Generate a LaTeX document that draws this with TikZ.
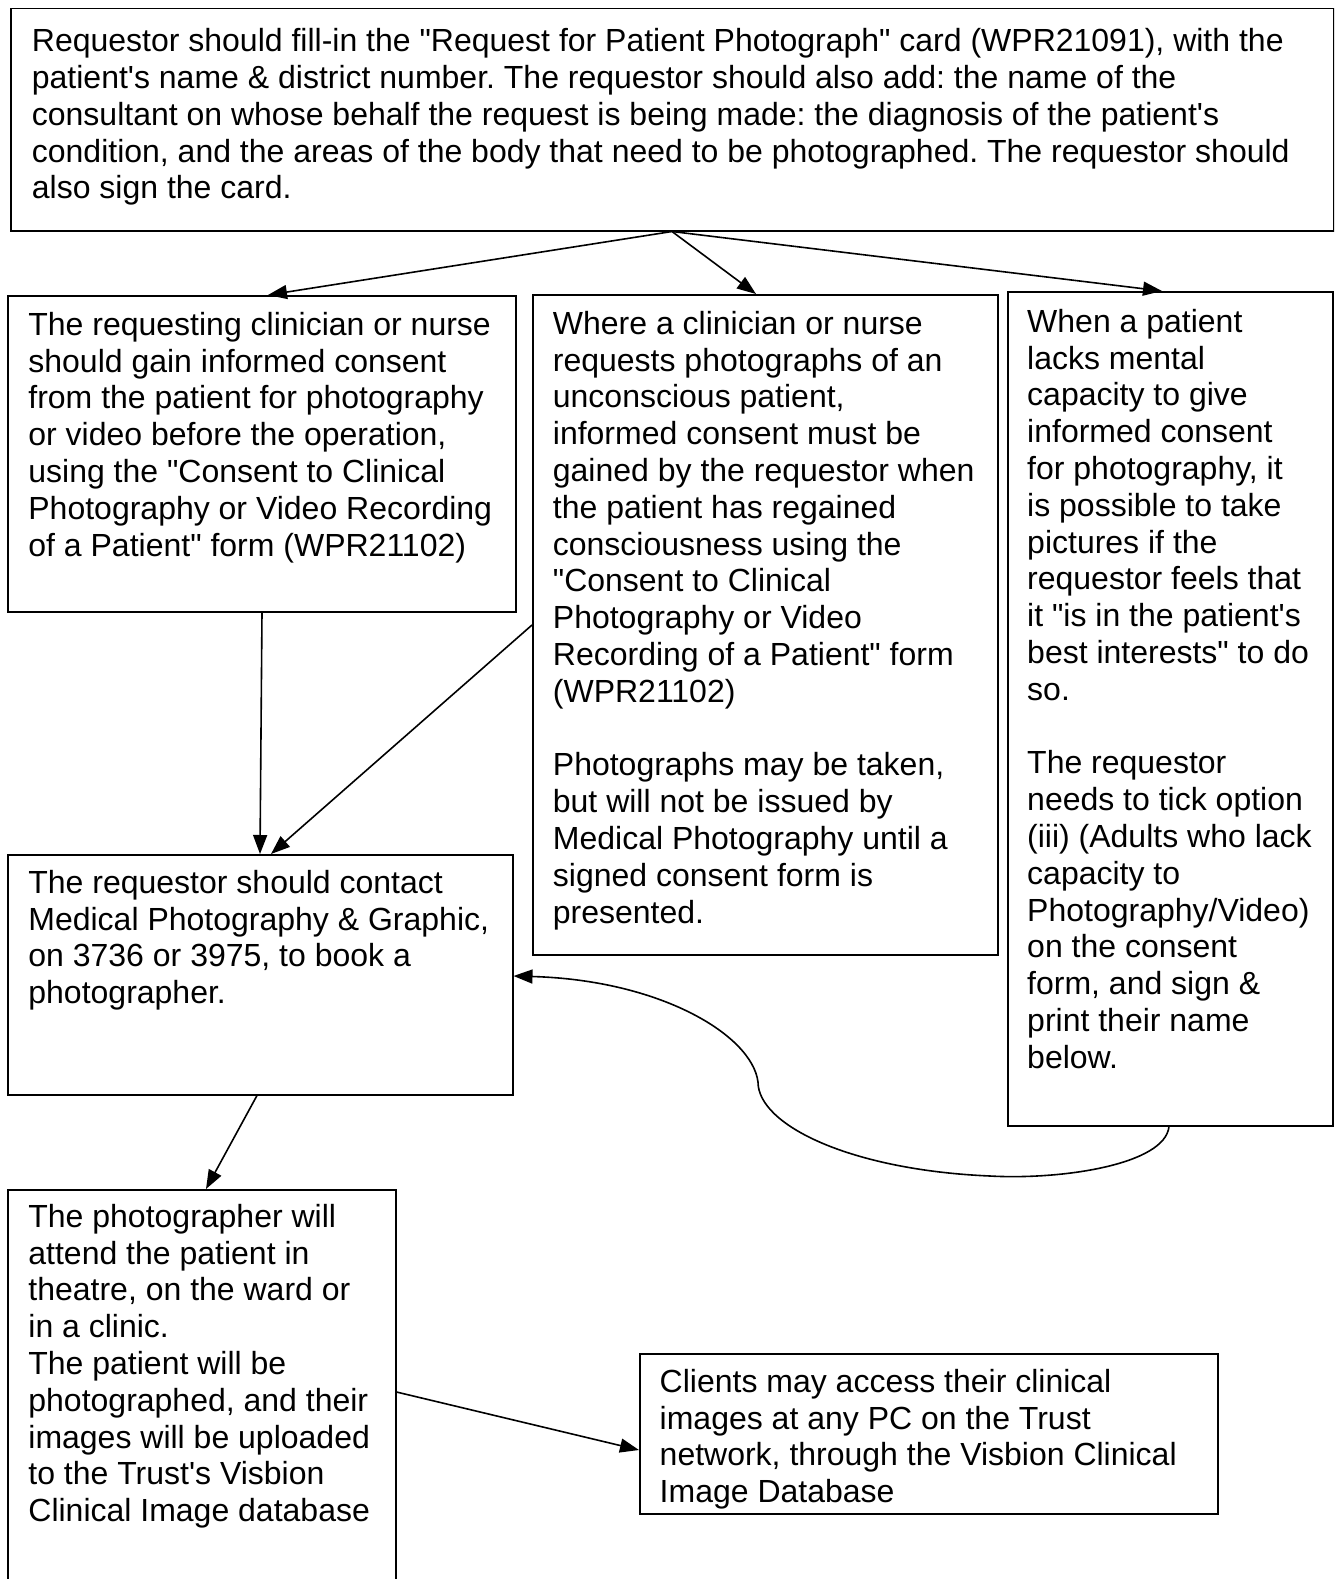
\documentclass[tikz,border=0pt]{standalone}
\usepackage{fontspec}
\newfontfamily\arialf{Liberation Sans}
\usetikzlibrary{arrows.meta}
\tikzset{
  boxn/.style={draw, line width=1.5pt, rectangle, inner sep=0pt, anchor=north west},
  txt/.style={anchor=north west, inner sep=0pt, align=left, font=\arialf\fontsize{32}{36.8}\selectfont\frenchspacing},
  conn/.style={line width=1.6pt, -{Triangle[length=19pt,width=14pt]}},
}
\newcommand{\fl}{\rule{0pt}{26pt}}
\begin{document}
\begin{tikzpicture}[x=1pt,y=-1pt]
\useasboundingbox (0,0) rectangle (1334,1579);
\clip (0,0) rectangle (1334,1579);
% boxes
\node[boxn, minimum width=1323pt, minimum height=222pt] (top) at (10,8) {};
\node[boxn, minimum width=508pt, minimum height=316pt] (b1) at (7,295) {};
\node[boxn, minimum width=465pt, minimum height=660pt] (b2) at (532,294) {};
\node[boxn, minimum width=325pt, minimum height=834pt] (b3) at (1007,291) {};
\node[boxn, minimum width=505pt, minimum height=240pt] (b4) at (7,854) {};
\node[boxn, minimum width=388pt, minimum height=420pt] (b5) at (7,1189) {};
\node[boxn, minimum width=578pt, minimum height=160pt] (b6) at (639,1353) {};
% texts
\node[txt] (topt) at (31.7,25.5) {\fl Requestor should fill-in the "Request for Patient Photograph" card (WPR21091), with the\\
patient's name \& district number. The requestor should also add: the name of the\\
consultant on whose behalf the request is being made: the diagnosis of the patient's\\
condition, and the areas of the body that need to be photographed. The requestor should\\
also sign the card.};
\node[txt] (b1t) at (28.2,309) {\fl The requesting clinician or nurse\\
should gain informed consent\\
from the patient for photography\\
or video before the operation,\\
using the "Consent to Clinical\\
Photography or Video Recording\\
of a Patient" form (WPR21102)};
\node[txt] (b2t) at (552.7,308) {\fl Where a clinician or nurse\\
requests photographs of an\\
unconscious patient,\\
informed consent must be\\
gained by the requestor when\\
the patient has regained\\
consciousness using the\\
"Consent to Clinical\\
Photography or Video\\
Recording of a Patient" form\\
(WPR21102)\\[36.8pt]
Photographs may be taken,\\
but will not be issued by\\
Medical Photography until a\\
signed consent form is\\
presented.};
\node[txt] (b3t) at (1027,306) {\fl When a patient\\
lacks mental\\
capacity to give\\
informed consent\\
for photography, it\\
is possible to take\\
pictures if the\\
requestor feels that\\
it "is in the patient's\\
best interests" to do\\
so.\\[36.8pt]
The requestor\\
needs to tick option\\
(iii) (Adults who lack\\
capacity to\\
Photography/Video)\\
on the consent\\
form, and sign \&\\
print their name\\
below.};
\node[txt] (b4t) at (28.2,867) {\fl The requestor should contact\\
Medical Photography \& Graphic,\\
on 3736 or 3975, to book a\\
photographer.};
\node[txt] (b5t) at (28.2,1201) {\fl The photographer will\\
attend the patient in\\
theatre, on the ward or\\
in a clinic.\\
The patient will be\\
photographed, and their\\
images will be uploaded\\
to the Trust's Visbion\\
Clinical Image database};
\node[txt] (b6t) at (659.5,1366) {\fl Clients may access their clinical\\
images at any PC on the Trust\\
network, through the Visbion Clinical\\
Image Database};
% connectors
\draw[conn] ([xshift=662pt]top.south west) -- ([xshift=261pt]b1.north west);
\draw[conn] ([xshift=662pt]top.south west) -- ([xshift=224pt]b2.north west);
\draw[conn] ([xshift=662pt]top.south west) -- ([xshift=155pt]b3.north west);
\draw[conn] ([xshift=255pt]b1.south west) -- ([xshift=253pt]b4.north west);
\draw[conn] ([yshift=-331pt]b2.north west) -- ([xshift=264pt]b4.north west);
\draw[conn] ([xshift=250pt]b4.south west) -- ([xshift=199pt]b5.north west);
\draw[conn] ([yshift=-203pt]b5.north east) -- ([yshift=-97pt]b6.north west);
\draw[conn] ([xshift=162pt]b3.south west) .. controls (1165,1165) and (1060,1180) .. (990,1176)
  .. controls (850,1170) and (758,1125) .. (758,1082)
  .. controls (752,1035) and (660,980) .. ([yshift=-122pt]b4.north east);
\end{tikzpicture}
\end{document}
